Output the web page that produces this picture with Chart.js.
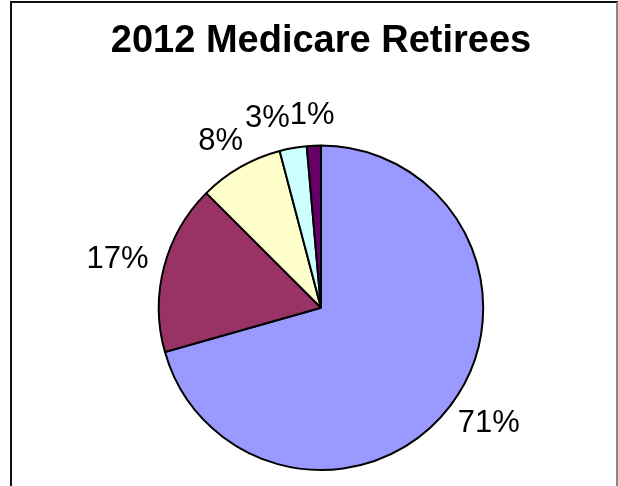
<!DOCTYPE html>
<html>
<head>
<meta charset="utf-8">
<script src="https://cdn.jsdelivr.net/npm/chart.js@4/dist/chart.umd.min.js"></script>
<style>
  body { margin: 0; background: #fff; }
  #wrap { position: relative; width: 618px; height: 486px; }
  #frame {
    position: absolute; left: 10px; top: 1px; width: 604px; height: 520px;
    border-left: 2px solid #111; border-top: 2px solid #111; border-right: 2px solid #888;
    pointer-events: none;
  }
</style>
</head>
<body>
<div id="wrap">
  <canvas id="pieChart" width="618" height="486"></canvas>
  <div id="frame"></div>
</div>
<script>
const chartTitle = '2012 Medicare Retirees'
const groups = ['Group 1', 'Group 2', 'Group 3', 'Group 4', 'Group 5']
const shares = [70.6, 16.9, 8.4, 2.7, 1.4]
const sliceColors = ['#9999FF', '#993366', '#FFFFCC', '#CCFFFF', '#660066']

const FONT = '"Liberation Sans", Arial, sans-serif'

// percent labels outside each slice, pushed apart when they collide
const pctLabels = {
    id: 'pctLabels',
    afterDatasetsDraw(chart) {
        const { ctx } = chart
        const meta = chart.getDatasetMeta(0)
        const total = shares.reduce((a, b) => a + b, 0)
        ctx.save()
        ctx.font = '31px ' + FONT
        ctx.fillStyle = '#000'
        ctx.textAlign = 'center'
        ctx.textBaseline = 'middle'
        const h = 26
        const placed = []
        for (let i = meta.data.length - 1; i >= 0; i--) {
            const arc = meta.data[i]
            const { x, y, startAngle, endAngle, outerRadius } =
                arc.getProps(['x', 'y', 'startAngle', 'endAngle', 'outerRadius'], true)
            const mid = (startAngle + endAngle) / 2
            const dx = Math.cos(mid), dy = Math.sin(mid)
            const text = Math.round(shares[i] / total * 100) + '%'
            const w = ctx.measureText(text).width
            const r = outerRadius + 17
            let lx = x + dx * (r + w / 2)
            const ly = y + dy * (r + h / 2)
            placed.forEach(p => {
                if (Math.abs(ly - p.y) < h && Math.abs(lx - p.x) < (w + p.w) / 2) {
                    const dir = lx < p.x ? -1 : 1
                    lx = p.x + dir * (w + p.w) / 2
                }
            })
            placed.push({ x: lx, y: ly, w })
            ctx.fillText(text, lx, ly)
        }
        ctx.restore()
    }
}

const data = {
    labels: groups,
    datasets: [{
        data: shares,
        backgroundColor: sliceColors,
        borderColor: '#000',
        borderWidth: 2
    }]
}

const options = {
    responsive: false,
    animation: false,
    layout: { padding: { left: 24, right: 0, top: 0, bottom: 15 } },
    plugins: {
        legend: { display: false },
        tooltip: { enabled: false },
        title: {
            display: true,
            text: chartTitle,
            color: '#000',
            font: { family: FONT, size: 38, weight: 'bold', lineHeight: 1.2 },
            padding: { top: 19, bottom: 80 }
        }
    }
}

new Chart('pieChart', { type: 'pie', data, options, plugins: [pctLabels] })
</script>
</body>
</html>
